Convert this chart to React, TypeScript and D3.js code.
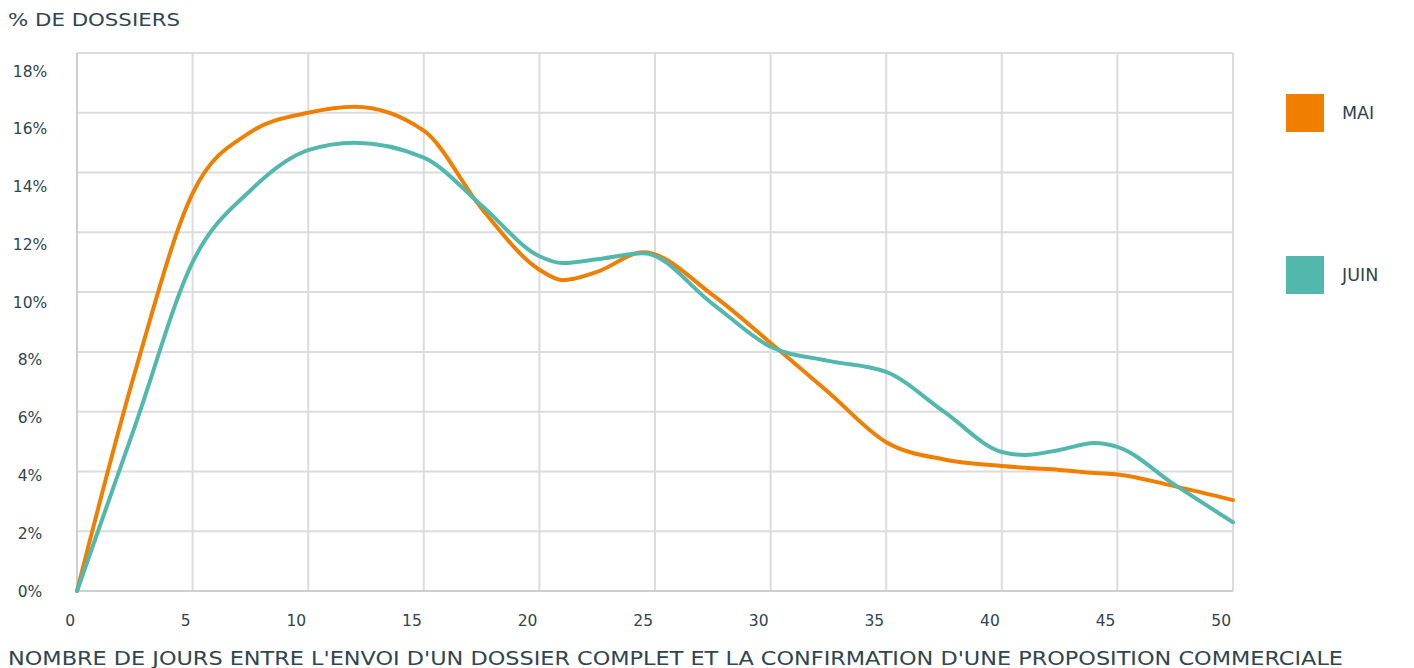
import React from "react";
import * as d3 from "d3";

const days = [0, 2.5, 5, 7.5, 10, 12, 15, 17.5, 20, 21, 22.5, 24.5, 27.5, 30, 32.5, 35, 37.5, 40, 41, 42.5, 44, 45, 47.5, 50];
const mai = [0, 7.3, 13.3, 15.35, 16.0, 16.2, 15.4, 12.8, 10.75, 10.4, 10.68, 11.33, 9.9, 8.3, 6.65, 4.98, 4.4, 4.18, 4.12, 4.05, 3.95, 3.9, 3.5, 3.04];
const juin = [0, 5.5, 11.0, 13.4, 14.75, 15.0, 14.5, 12.9, 11.2, 10.97, 11.1, 11.3, 9.6, 8.17, 7.7, 7.33, 6.0, 4.65, 4.55, 4.72, 4.95, 4.82, 3.54, 2.3];
const xTicks = [0, 5, 10, 15, 20, 25, 30, 35, 40, 45, 50];
const yTicks = [0, 2, 4, 6, 8, 10, 12, 14, 16, 18];
const seriesNames = ["MAI", "JUIN"];
const colors = ["#f07f00", "#52b8ae"];

const W = 1414;
const H = 668;
const FONT = "'DejaVu Sans', Verdana, sans-serif";
const TEXT = "#2f4550";

export default function App() {
  const x = d3.scaleLinear().domain([0, 50]).range([77, 1233]);
  const y = d3.scaleLinear().domain([0, 18]).range([591, 53]);
  const yLab = d3.scaleLinear().domain([0, 18]).range([591.5, 71.5]);

  const line = d3
    .line<[number, number]>()
    .x((d) => x(d[0]))
    .y((d) => y(d[1]))
    .curve(d3.curveMonotoneX);

  const series = [mai, juin];

  return (
    <svg
      width={W}
      height={H}
      style={{ position: "absolute", left: 0, top: 0, background: "#fff" }}
      fontFamily={FONT}
    >
      {/* grid */}
      {yTicks.map((t) => (
        <line key={"gy" + t} x1={x(0)} x2={x(50)} y1={y(t)} y2={y(t)} stroke="#dcdcdc" strokeWidth={2} />
      ))}
      {xTicks.map((t) => (
        <line key={"gx" + t} x1={x(t)} x2={x(t)} y1={y(0)} y2={y(18)} stroke="#dcdcdc" strokeWidth={2} />
      ))}
      <line x1={x(0)} x2={x(0)} y1={y(0)} y2={y(18)} stroke="#cfcfcf" strokeWidth={2} />
      <line x1={x(0)} x2={x(50)} y1={y(0)} y2={y(0)} stroke="#cfcfcf" strokeWidth={2} />

      {/* y labels */}
      {yTicks.map((t) => (
        <text key={"ly" + t} x={30} y={yLab(t)} textAnchor="middle" dominantBaseline="central" fontSize={15.5} fill={TEXT}>
          {t + "%"}
        </text>
      ))}
      {/* x labels */}
      {xTicks.map((t) => (
        <text key={"lx" + t} x={x(t) - 2} y={621} textAnchor="end" dominantBaseline="central" fontSize={15.5} fill={TEXT}>
          {t}
        </text>
      ))}

      {/* lines */}
      {series.map((s, i) => (
        <path
          key={"s" + i}
          d={line(days.map((d, j) => [d, s[j]] as [number, number])) || ""}
          fill="none"
          stroke={colors[i]}
          strokeWidth={4}
          strokeLinejoin="round"
          strokeLinecap="round"
        />
      ))}

      {/* titles */}
      <text x={8} y={20} dominantBaseline="central" fontSize={17} fill={TEXT} textLength={172} lengthAdjust="spacingAndGlyphs">
        % DE DOSSIERS
      </text>
      <text x={8} y={658} dominantBaseline="central" fontSize={19} fill={TEXT} textLength={1335} lengthAdjust="spacingAndGlyphs">
        NOMBRE DE JOURS ENTRE L'ENVOI D'UN DOSSIER COMPLET ET LA CONFIRMATION D'UNE PROPOSITION COMMERCIALE
      </text>

      {/* legend */}
      {seriesNames.map((n, i) => (
        <g key={"lg" + n} transform={`translate(1286, ${94 + i * 162})`}>
          <rect width={38} height={38} fill={colors[i]} />
          <text x={56} y={19} dominantBaseline="central" fontSize={17.5} fill={TEXT}>
            {n}
          </text>
        </g>
      ))}
    </svg>
  );
}
